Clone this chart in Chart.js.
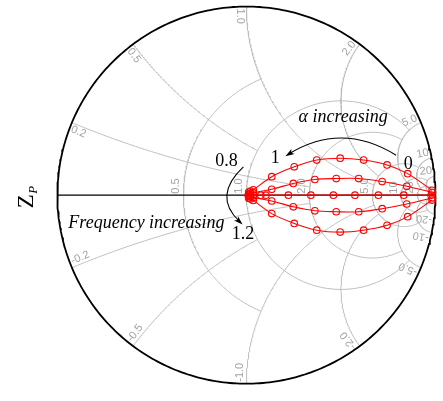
<!DOCTYPE html>
<html>
<head>
<meta charset="utf-8">
<script src="https://cdn.jsdelivr.net/npm/chart.js@4.4.1/dist/chart.umd.min.js"></script>
<style>
  html, body { margin: 0; padding: 0; background: #ffffff; }
  #smith { display: block; }
</style>
</head>
<body>
<canvas id="smith" width="443" height="401"></canvas>
<script>
// ---- Smith chart grid -------------------------------------------------------
// Constant-resistance circles and the reactance at which each one stops.
const resistanceValues = [0.5, 1, 2, 5, 10, 20];
const resistanceLimits = [1, 5, 5, 10, 20, Infinity];
const resistanceLabels = ['0.5', '1.0', '2.0', '5.0', '10', '20'];
// Constant-reactance arcs (drawn for +x and -x) and the resistance at which each stops.
const reactanceValues = [0.2, 0.5, 1, 2, 5, 10, 20];
const reactanceLimits = [2, 1, 5, 5, 10, 20, Infinity];
const reactanceLabels = ['0.2', '0.5', '1.0', '2.0', '5.0', '10', '20'];

// ---- Reflection coefficient Z_P, one trace per normalised frequency ------------
// Points run from alpha = 0 (near the open-circuit end) to alpha = 1 (centre).
const frequencies = ['0.8', '0.9', '1.0', '1.1', '1.2'];
const gammaRe_08 = [0.982, 0.853, 0.744, 0.620, 0.496, 0.372, 0.253, 0.134, 0.036, 0.022, 0.012];
const gammaIm_08 = [0.026, 0.114, 0.160, 0.186, 0.196, 0.186, 0.150, 0.098, 0.028, 0.021, 0.016];
const gammaRe_09 = [0.984, 0.848, 0.718, 0.594, 0.475, 0.362, 0.248, 0.134, 0.036, 0.022, 0.012];
const gammaIm_09 = [0.014, 0.047, 0.072, 0.088, 0.088, 0.083, 0.062, 0.031, 0.013, 0.010, 0.007];
const gammaRe_10 = [0.977, 0.832, 0.698, 0.574, 0.460, 0.341, 0.222, 0.103, 0.076, 0.036, 0.020, 0.010];
const gammaIm_10 = [0.000, 0.000, 0.000, 0.000, 0.000, 0.000, 0.000, 0.000, 0.000, 0.000, 0.000, 0.000];
const gammaRe_11 = [0.984, 0.848, 0.718, 0.594, 0.475, 0.362, 0.248, 0.134, 0.036, 0.022, 0.012];
const gammaIm_11 = [-0.014, -0.047, -0.072, -0.088, -0.088, -0.083, -0.062, -0.031, -0.013, -0.010, -0.007];
const gammaRe_12 = [0.982, 0.853, 0.744, 0.620, 0.496, 0.372, 0.253, 0.134, 0.036, 0.022, 0.012];
const gammaIm_12 = [-0.026, -0.114, -0.160, -0.186, -0.196, -0.186, -0.150, -0.098, -0.028, -0.021, -0.016];

const traces = [
  [gammaRe_08, gammaIm_08], [gammaRe_09, gammaIm_09], [gammaRe_10, gammaIm_10],
  [gammaRe_11, gammaIm_11], [gammaRe_12, gammaIm_12]
];

// ---- geometry helpers -----------------------------------------------------------
function gammaOf(r, x) {
  const d = (r + 1) * (r + 1) + x * x;
  return { x: (r * r + x * x - 1) / d, y: 2 * x / d };
}

function resistanceArc(r, xLim) {
  const c = r / (1 + r), rad = 1 / (1 + r);
  let phi0 = 0;
  if (isFinite(xLim)) { const g = gammaOf(r, xLim); phi0 = Math.atan2(g.y, g.x - c); }
  const pts = [], n = 180;
  for (let i = 0; i <= n; i++) {
    const p = phi0 + (2 * Math.PI - 2 * phi0) * i / n;
    pts.push({ x: c + rad * Math.cos(p), y: rad * Math.sin(p) });
  }
  return pts;
}

function reactanceArc(xv, rLim) {
  const cy = 1 / xv, rad = Math.abs(1 / xv);
  const g0 = gammaOf(0, xv);
  const g1 = isFinite(rLim) ? gammaOf(rLim, xv) : { x: 1, y: 0 };
  const a0 = Math.atan2(g0.y - cy, g0.x - 1);
  const a1 = Math.atan2(g1.y - cy, g1.x - 1);
  let d = a1 - a0;
  while (d > Math.PI) d -= 2 * Math.PI;
  while (d < -Math.PI) d += 2 * Math.PI;
  const pts = [], n = 160;
  for (let i = 0; i <= n; i++) {
    const a = a0 + d * i / n;
    pts.push({ x: 1 + rad * Math.cos(a), y: cy + rad * Math.sin(a) });
  }
  return pts;
}

function unitCircle() {
  const pts = [];
  for (let i = 0; i <= 360; i++) {
    const a = i * Math.PI / 180;
    pts.push({ x: Math.cos(a), y: Math.sin(a) });
  }
  return pts;
}

// ---- datasets ------------------------------------------------------------------
const GRID = '#bdbdbd';
const datasets = [];
const gridLine = (data) => ({
  type: 'line', data, borderColor: GRID, borderWidth: 1, pointRadius: 0,
  fill: false, tension: 0, order: 10
});
resistanceValues.forEach((r, i) => datasets.push(gridLine(resistanceArc(r, resistanceLimits[i]))));
reactanceValues.forEach((x, i) => {
  datasets.push(gridLine(reactanceArc(x, reactanceLimits[i])));
  datasets.push(gridLine(reactanceArc(-x, reactanceLimits[i])));
});
datasets.push({
  type: 'line', data: [{ x: -1, y: 0 }, { x: 1, y: 0 }], borderColor: '#000',
  borderWidth: 1.1, pointRadius: 0, fill: false, order: 5
});
datasets.push({
  type: 'line', data: unitCircle(), borderColor: '#000', borderWidth: 1.8,
  pointRadius: 0, fill: false, tension: 0, order: 5
});
traces.forEach(([re, im], k) => {
  datasets.push({
    type: 'line', label: 'f = ' + frequencies[k],
    data: re.map((v, i) => ({ x: v, y: im[i] })),
    borderColor: '#ff0000', borderWidth: 1.1, tension: 0.35,
    pointStyle: 'circle', pointRadius: 3.3, pointBorderWidth: 1.1,
    pointBorderColor: '#ff0000', pointBackgroundColor: 'rgba(255,255,255,0)',
    fill: false, order: 1
  });
});

// ---- grid labels and annotations ---------------------------------------------------
const LABEL_FONT = '11px "Liberation Sans", Arial, sans-serif';
const TEXT_FONT = '18px "Liberation Serif", "Times New Roman", serif';
const ITALIC_FONT = 'italic 18px "Liberation Serif", "Times New Roman", serif';

function arrowHead(ctx, x, y, ang, len, wid) {
  ctx.save();
  ctx.translate(x, y); ctx.rotate(ang);
  ctx.beginPath();
  ctx.moveTo(0, 0); ctx.lineTo(-len, -wid / 2); ctx.lineTo(-len * 0.75, 0); ctx.lineTo(-len, wid / 2);
  ctx.closePath(); ctx.fill();
  ctx.restore();
}

const smithDecor = {
  id: 'smithDecor',
  beforeDatasetsDraw(chart) {
    const ctx = chart.ctx, xs = chart.scales.x, ys = chart.scales.y;
    const P = (g) => [xs.getPixelForValue(g.x), ys.getPixelForValue(g.y)];
    ctx.save();
    ctx.fillStyle = '#a3a3a3';
    ctx.font = LABEL_FONT;
    // resistance labels on the real axis
    resistanceValues.forEach((r, i) => {
      const [px, py] = P(gammaOf(r, 0));
      ctx.save();
      ctx.translate(px - 1.5, py - 1.5);
      ctx.rotate(-Math.PI / 2);
      ctx.textAlign = 'left'; ctx.textBaseline = 'bottom';
      ctx.fillText(resistanceLabels[i], 0, 0);
      ctx.restore();
    });
    // reactance labels along the rim
    reactanceValues.forEach((xv, i) => {
      [xv, -xv].forEach((x) => {
        const g = gammaOf(0, x);
        const th = Math.atan2(g.y, g.x);
        const outward = g.y > 0 && g.x > 1e-6;
        const rho = outward ? -th : Math.PI - th;
        const [bx, by] = P(g);
        const ax = bx - Math.cos(th) * 2, ay = by + Math.sin(th) * 2;
        const s = g.y > 0 ? [-Math.sin(th), -Math.cos(th)] : [Math.sin(th), Math.cos(th)];
        const u = [Math.sin(rho), -Math.cos(rho)];
        const above = u[0] * s[0] + u[1] * s[1] > 0;
        const txt = (x < 0 ? '-' : '') + reactanceLabels[i];
        ctx.save();
        ctx.translate(ax, ay);
        ctx.rotate(rho);
        ctx.textAlign = outward ? 'right' : 'left';
        ctx.textBaseline = above ? 'bottom' : 'top';
        ctx.fillText(txt, 0, above ? -0.5 : 0.5);
        ctx.restore();
      });
    });
    ctx.restore();
  },
  afterDatasetsDraw(chart) {
    const ctx = chart.ctx, xs = chart.scales.x, ys = chart.scales.y;
    const X = (v) => xs.getPixelForValue(v), Y = (v) => ys.getPixelForValue(v);
    ctx.save();
    ctx.fillStyle = '#000'; ctx.strokeStyle = '#000';
    ctx.textAlign = 'left'; ctx.textBaseline = 'alphabetic';

    // alpha arrow, sweeping from the alpha = 0 end towards the centre
    const a0 = [X(0.792), Y(0.212)], ac = [X(0.503), Y(0.392)], a1 = [X(0.222), Y(0.217)];
    ctx.lineWidth = 1.1;
    ctx.beginPath(); ctx.moveTo(a0[0], a0[1]); ctx.quadraticCurveTo(ac[0], ac[1], a1[0], a1[1]); ctx.stroke();
    arrowHead(ctx, a1[0] - 3, a1[1] + 2, Math.atan2(a1[1] - ac[1], a1[0] - ac[0]), 9, 6);

    // frequency arrow, curling round the centre from 0.8 to 1.2
    const f0 = [X(-0.016), Y(0.150)], fc = [X(-0.181), Y(-0.005)], f1 = [X(-0.036), Y(-0.140)];
    ctx.beginPath(); ctx.moveTo(f0[0], f0[1]); ctx.quadraticCurveTo(fc[0], fc[1], f1[0], f1[1]); ctx.stroke();
    arrowHead(ctx, f1[0] + 3, f1[1] + 3, Math.atan2(f1[1] - fc[1], f1[0] - fc[0]), 9, 6);

    ctx.font = ITALIC_FONT;
    ctx.fillText('\u03b1 increasing', X(0.276), Y(0.388));
    ctx.fillText('Frequency increasing', X(-0.942), Y(-0.176));
    ctx.font = TEXT_FONT;
    ctx.fillText('0', X(0.832), Y(0.140));
    ctx.fillText('1', X(0.129), Y(0.171));
    ctx.fillText('0.8', X(-0.165), Y(0.155));
    ctx.fillText('1.2', X(-0.078), Y(-0.233));

    // Z_P, written upward beside the rim
    ctx.save();
    ctx.translate(X(-1.127), Y(-0.070));
    ctx.rotate(-Math.PI / 2);
    ctx.font = '23px "Liberation Serif", "Times New Roman", serif';
    ctx.fillText('Z', 0, 0);
    const zw = ctx.measureText('Z').width;
    ctx.font = 'italic 13px "Liberation Serif", "Times New Roman", serif';
    ctx.fillText('P', zw + 0.5, 4);
    ctx.restore();
    ctx.restore();
  }
};

// Unit circle centred at pixel (247, 195), 193.5 px per unit of |Gamma|.
const W = 443, H = 401, CX = 247, CY = 195, RPX = 193.5;

new Chart(document.getElementById('smith'), {
  type: 'scatter',
  data: { datasets },
  options: {
    responsive: false, animation: false, clip: false,
    layout: { padding: 0 },
    plugins: { legend: { display: false }, tooltip: { enabled: false }, title: { display: false } },
    elements: { line: { capBezierPoints: false } },
    scales: {
      x: { type: 'linear', display: false, min: -CX / RPX, max: (W - CX) / RPX },
      y: { type: 'linear', display: false, min: -(H - CY) / RPX, max: CY / RPX }
    }
  },
  plugins: [smithDecor]
});
</script>
</body>
</html>
